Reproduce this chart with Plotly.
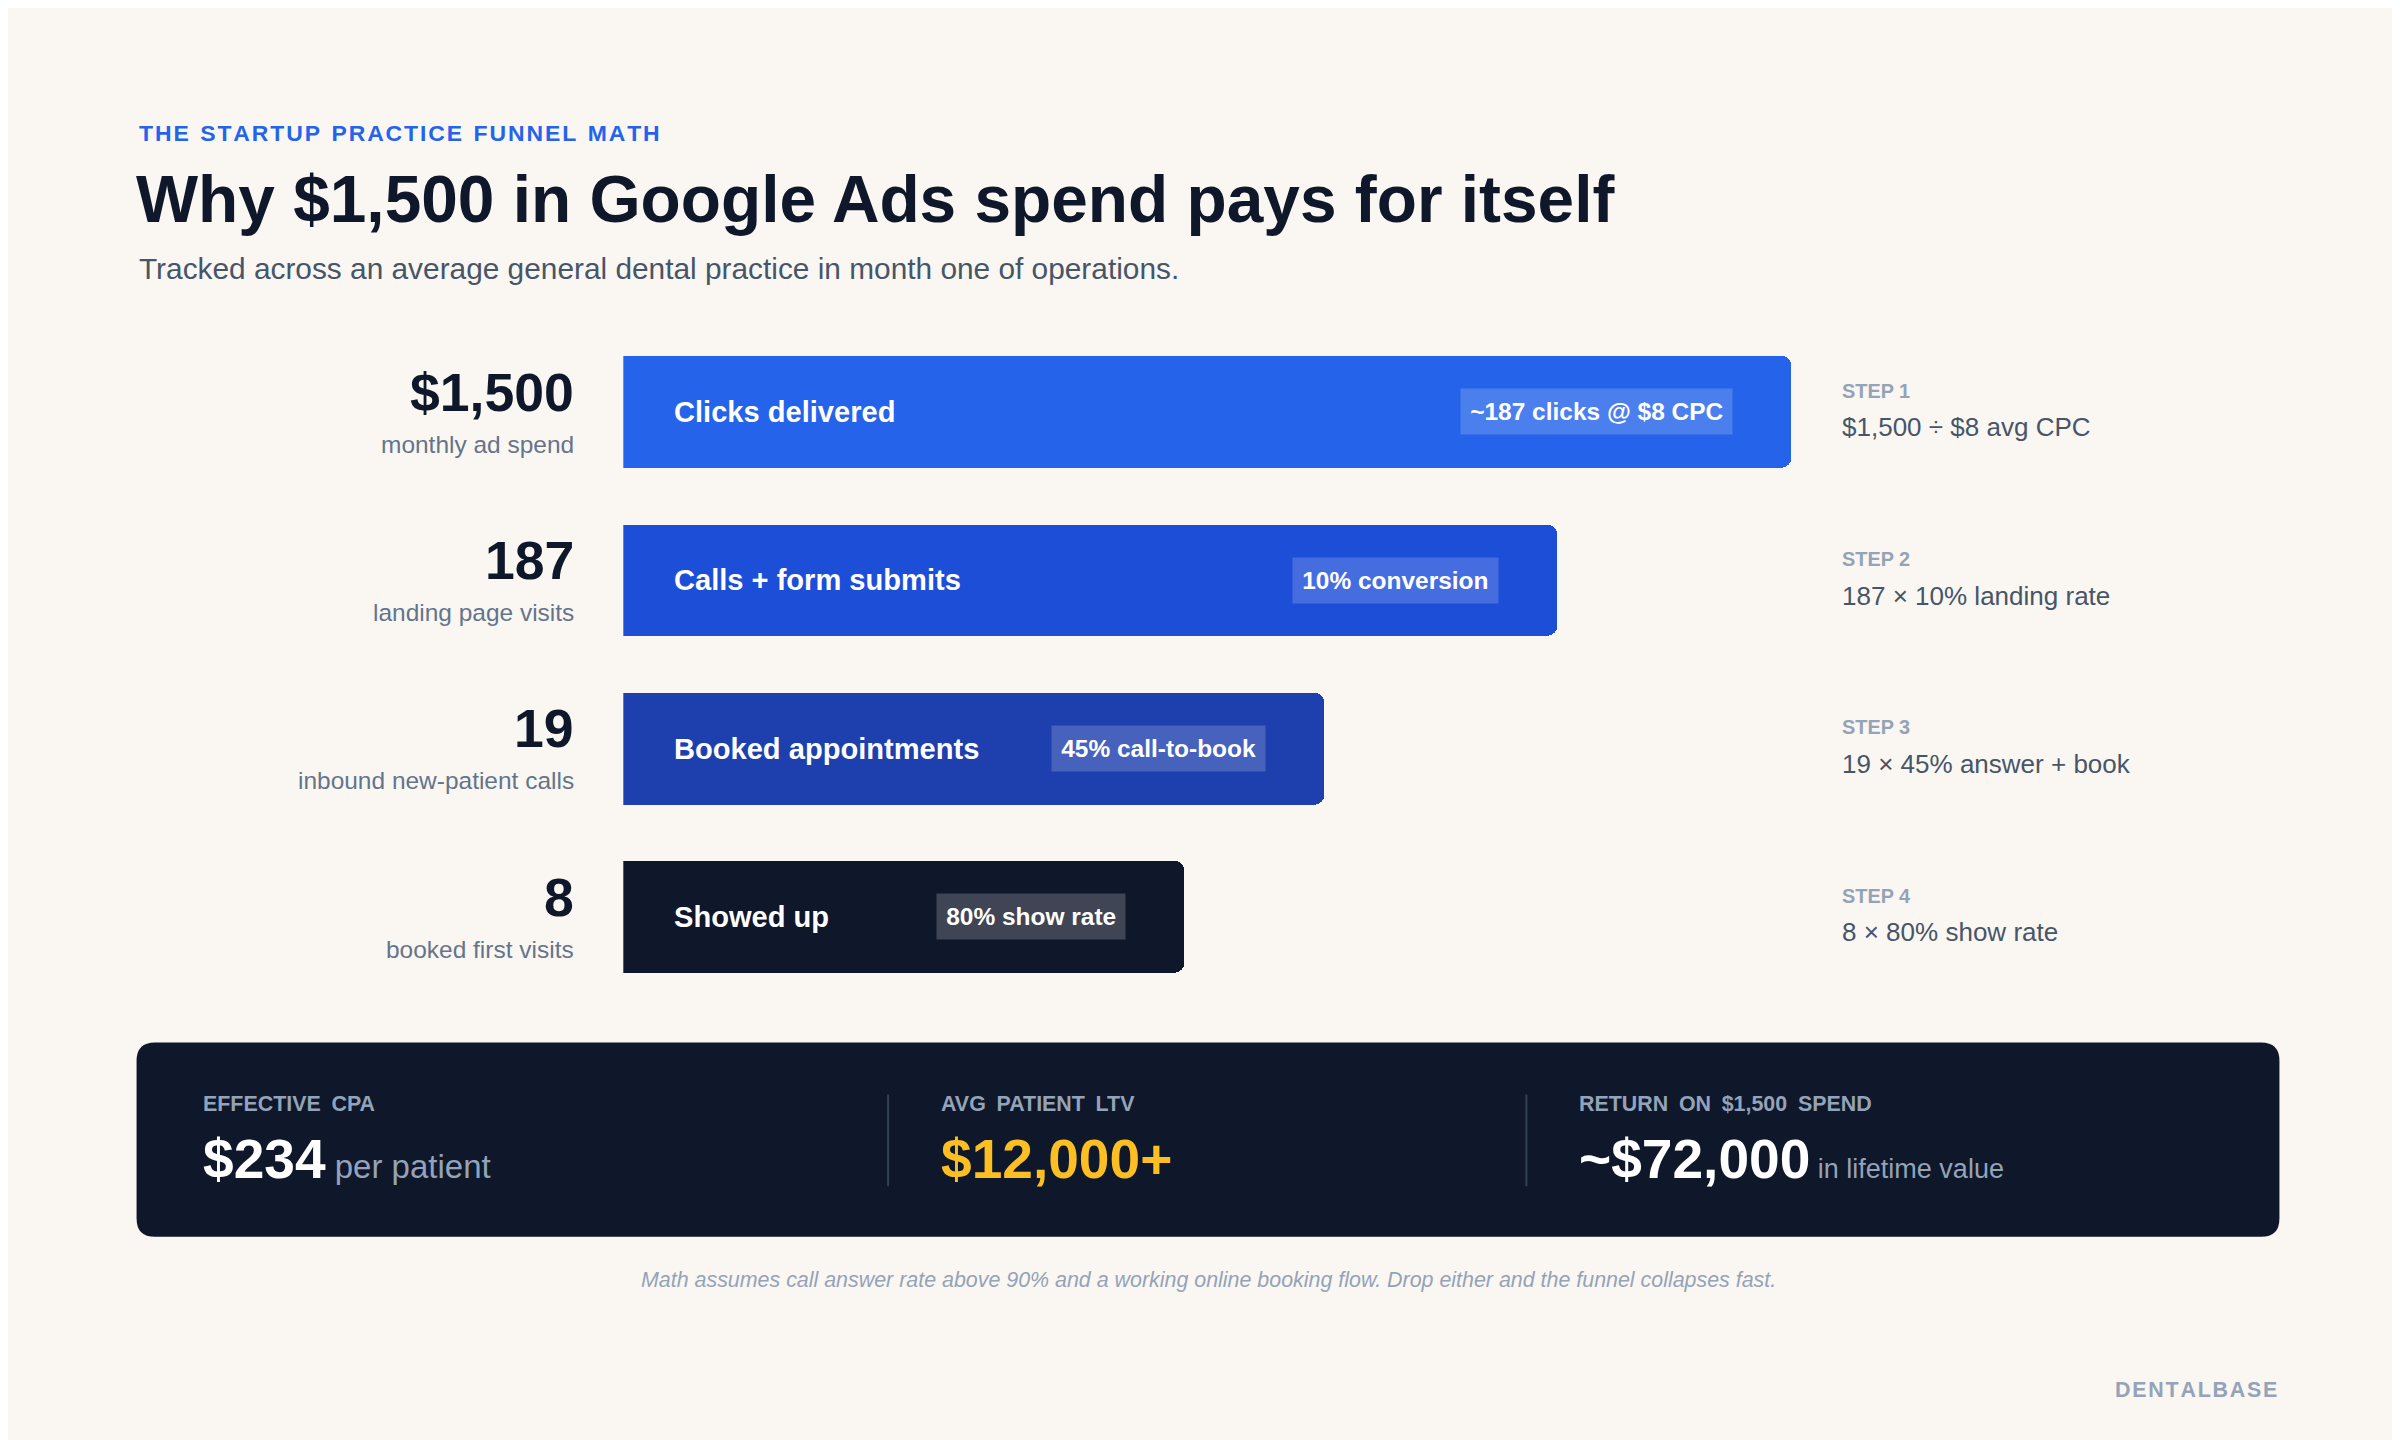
import plotly.graph_objects as go

# funnel data
stages = ["Clicks delivered", "Calls + form submits", "Booked appointments", "Showed up"]
bar_pct = [100, 80, 60, 48]
pills = ["~187 clicks @ $8 CPC", "10% conversion", "45% call-to-book", "80% show rate"]
counts = ["$1,500", "187", "19", "8"]
count_labels = ["monthly ad spend", "landing page visits", "inbound new-patient calls", "booked first visits"]
step_names = ["STEP 1", "STEP 2", "STEP 3", "STEP 4"]
step_math = ["$1,500 ÷ $8 avg CPC", "187 × 10% landing rate", "19 × 45% answer + book", "8 × 80% show rate"]
bar_colors = ["#2563eb", "#1d4ed8", "#1e40af", "#0f172a"]
pill_bg = ["rgba(255,255,255,0.18)", "rgba(255,255,255,0.18)", "rgba(255,255,255,0.18)", "rgba(255,255,255,0.2)"]

kpi_labels = ["EFFECTIVE CPA", "AVG PATIENT LTV", "RETURN ON $1,500 SPEND"]
kpi_values = ["$234", "$12,000+", "~$72,000"]
kpi_suffix = [" per patient", "", " in lifetime value"]
kpi_colors = ["#ffffff", "#fbbf24", "#ffffff"]

W, H = 1568, 941  # layout units (scaled to 2400x1440)
S = 2400 / W
FONT = "Liberation Sans, Arial, sans-serif"

fig = go.Figure()
fig.add_trace(go.Bar(
    x=bar_pct, y=stages, orientation="h", xaxis="x2", yaxis="y2",
    marker=dict(color=bar_colors, cornerradius=int(7 * S), line=dict(width=0)),
    width=0.664, hoverinfo="skip", showlegend=False,
))

ann = []
def txt(x, y, text, size, color, anchor="left", bold=False, italic=False, yanchor="middle"):
    if bold:
        text = "<b>" + text + "</b>"
    if italic:
        text = "<i>" + text + "</i>"
    ann.append(dict(x=x, y=y, xref="x", yref="y", text=text, showarrow=False,
                    xanchor=anchor, yanchor=yanchor,
                    font=dict(family=FONT, size=size * S, color=color)))

txt(84, 82, "T H E   S T A R T U P   P R A C T I C E   F U N N E L   M A T H".replace("   ", "\u2002").replace(" ", "\u200a"),
    15, "#2563eb", bold=True)
txt(82, 125, "Why $1,500 in Google Ads spend pays for itself", 43, "#0f172a", bold=True)
txt(84, 170, "Tracked across an average general dental practice in month one of operations.", 19.5, "#475569")

for i in range(4):
    yc = 264 + 110 * i
    txt(371, yc - 13, counts[i], 35, "#0f172a", anchor="right", bold=True)
    txt(371, yc + 21, count_labels[i], 16, "#64748b", anchor="right")
    txt(1197, yc - 14, step_names[i], 13, "#94a3b8", bold=True)
    txt(1197, yc + 10, step_math[i], 17, "#475569")
    ann.append(dict(x=0, y=stages[i], xref="x2", yref="y2", xanchor="left", xshift=32 * S,
                    text="<b>" + stages[i] + "</b>", showarrow=False,
                    font=dict(family=FONT, size=19 * S, color="white")))
    ann.append(dict(x=bar_pct[i], y=stages[i], xref="x2", yref="y2", xanchor="right", xshift=-38 * S,
                    text="<b>" + pills[i] + "</b>", showarrow=False, bgcolor=pill_bg[i],
                    borderpad=6 * S, font=dict(family=FONT, size=16 * S, color="white")))

kx = [126, 608, 1025]
for i in range(3):
    txt(kx[i], 716, kpi_labels[i].replace(" ", "\u2002"), 14, "#94a3b8", bold=True)
    val = "<b>" + kpi_values[i] + "</b>"
    if kpi_suffix[i]:
        sz = 22 if i == 0 else 18
        val += "<span style='font-size:%dpx;color:#94a3b8'>%s</span>" % (sz * S, kpi_suffix[i])
    txt(kx[i], 752, val, 36, kpi_colors[i])

txt(784, 831, "Math assumes call answer rate above 90% and a working online booking flow. Drop either and the funnel collapses fast.",
    14, "#94a3b8", anchor="center", italic=True)
txt(1484, 903, "D E N T A L B A S E".replace(" ", "\u200a"), 14, "#94a3b8", anchor="right", bold=True)

r = 12
panel = (f"M {84+r},676 L {1484-r},676 Q 1484,676 1484,{676+r} L 1484,{803-r} Q 1484,803 {1484-r},803 "
         f"L {84+r},803 Q 84,803 84,{803-r} L 84,{676+r} Q 84,676 {84+r},676 Z")
shapes = [dict(type="path", path=panel, xref="x", yref="y", fillcolor="#0f172a", line=dict(width=0), layer="below")]
for dx in [575, 992]:
    shapes.append(dict(type="line", x0=dx, x1=dx, y0=710, y1=770, xref="x", yref="y",
                       line=dict(color="#334155", width=2)))

fig.update_layout(
    width=2400, height=1440, margin=dict(l=0, r=0, t=0, b=0),
    paper_bgcolor="#faf7f2", plot_bgcolor="rgba(0,0,0,0)",
    xaxis=dict(range=[0, W], visible=False, fixedrange=True),
    yaxis=dict(range=[H, 0], visible=False, fixedrange=True),
    xaxis2=dict(range=[0, 100], domain=[402 / W, 1165 / W], visible=False, anchor="y2"),
    yaxis2=dict(domain=[1 - 649 / H, 1 - 209 / H], autorange="reversed", visible=False,
                anchor="x2", type="category"),
    annotations=ann, shapes=shapes, bargap=0,
)
fig.write_html("out.html")
